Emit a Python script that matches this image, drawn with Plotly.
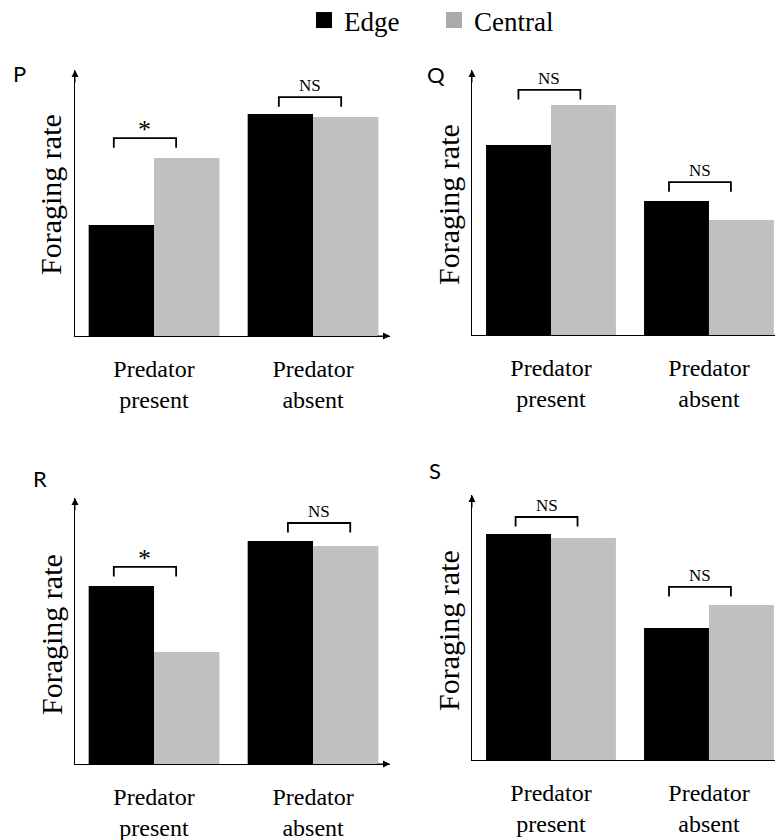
import plotly.graph_objects as go

# ---------------- data ----------------
categories = ["Predator present", "Predator absent"]
tick_labels = ["Predator<br>present", "Predator<br>absent"]
series_names = ["Edge", "Central"]
panel_names = ["P", "Q", "R", "S"]

edge_P = [4.17, 8.35]
central_P = [6.69, 8.23]
edge_Q = [7.17, 5.06]
central_Q = [8.68, 4.34]
edge_R = [6.69, 8.38]
central_R = [4.21, 8.20]
edge_S = [8.53, 4.98]
central_S = [8.38, 5.85]

sig_P = ["*", "NS"]
sig_Q = ["NS", "NS"]
sig_R = ["*", "NS"]
sig_S = ["NS", "NS"]

# bracket heights (same units as the bars)
bracket_P = [7.44, 8.98]
bracket_Q = [9.25, 5.77]
bracket_R = [7.41, 9.06]
bracket_S = [9.17, 6.53]

edge = {"P": edge_P, "Q": edge_Q, "R": edge_R, "S": edge_S}
central = {"P": central_P, "Q": central_Q, "R": central_R, "S": central_S}
sig = {"P": sig_P, "Q": sig_Q, "R": sig_R, "S": sig_S}
bracket = {"P": bracket_P, "Q": bracket_Q, "R": bracket_R, "S": bracket_S}

# ---------------- layout / style ----------------
W, H = 775, 840
EDGE_COLOR = "#000000"
CENTRAL_COLOR = "#c0c0c0"
SERIF = "Liberation Serif"
SANS = "Lato"

def fx(px):
    return px / W

def fy(py):
    return 1 - py / H

# pixel boxes of each panel: (left, right, bottom, top)
boxes = {
    "P": (75, 390, 336, 70),
    "Q": (472, 775, 335, 70),
    "R": (75, 390, 764, 498),
    "S": (472, 775, 760, 495),
}
xranges = {
    "P": [-0.497, 1.484],
    "Q": [-0.5, 1.418],
    "R": [-0.497, 1.484],
    "S": [-0.5, 1.418],
}
# bracket horizontal shift relative to category centre
bracket_shift = {
    "P": [-0.057, -0.019],
    "Q": [-0.01, -0.057],
    "R": [-0.057, 0.038],
    "S": [-0.028, -0.057],
}
letter_pos = {"P": (19, 73), "Q": (436, 74), "R": (40, 478), "S": (435, 470)}
ytitle_pos = {"P": (50, 195), "Q": (448, 205), "R": (51, 635), "S": (448, 631)}
arrow_right = {"P": True, "Q": False, "R": True, "S": False}

HALF = 0.196
LEG = 0.36

fig = go.Figure()
annotations = []
xs = [0, 1]

for i, p in enumerate(panel_names):
    n = "" if i == 0 else str(i + 1)
    xa, ya = "x" + n, "y" + n
    fig.add_trace(go.Bar(x=xs, y=edge[p], name="Edge", marker_color=EDGE_COLOR,
                         marker_line_width=0, showlegend=False, xaxis=xa, yaxis=ya,
                         offsetgroup="edge"))
    fig.add_trace(go.Bar(x=xs, y=central[p], name="Central", marker_color=CENTRAL_COLOR,
                         marker_line_width=0, showlegend=False, xaxis=xa, yaxis=ya,
                         offsetgroup="central"))
    # significance brackets
    for c in range(2):
        cx = xs[c] + bracket_shift[p][c]
        lvl = bracket[p][c]
        fig.add_trace(go.Scatter(
            x=[cx - HALF, cx - HALF, cx + HALF, cx + HALF],
            y=[lvl - LEG, lvl, lvl, lvl - LEG],
            mode="lines", line=dict(color="black", width=1.8),
            showlegend=False, hoverinfo="skip", xaxis=xa, yaxis=ya))
        star = sig[p][c] == "*"
        annotations.append(dict(
            x=cx, y=lvl, xref=xa, yref=ya, text=sig[p][c], showarrow=False,
            yanchor="bottom", yshift=(-8 if star else 0),
            font=dict(family=SERIF, size=(26 if star else 17), color="black")))

    L, R_, B, T = boxes[p]
    axis_x = dict(domain=[fx(L), fx(R_)], range=xranges[p], showline=True,
                  linecolor="black", linewidth=1, showgrid=False, zeroline=False,
                  tickvals=xs, ticktext=tick_labels, ticks="", ticklabelstandoff=11,
                  tickfont=dict(family=SERIF, size=24, color="black"),
                  anchor=ya, fixedrange=True, automargin=False)
    axis_y = dict(domain=[fy(B), fy(T)], range=[0, 10], showline=True,
                  linecolor="black", linewidth=1, showgrid=False, zeroline=False,
                  showticklabels=False, ticks="", anchor=xa, fixedrange=True,
                  automargin=False)
    fig.update_layout(**{"xaxis" + n: axis_x, "yaxis" + n: axis_y})

    # arrow heads
    annotations.append(dict(x=0, y=1, xref=xa + " domain", yref=ya + " domain",
                            ax=0, ay=14, showarrow=True, arrowhead=2, arrowsize=1.4,
                            arrowwidth=1, arrowcolor="black", text=""))
    if arrow_right[p]:
        annotations.append(dict(x=1, y=0, xref=xa + " domain", yref=ya + " domain",
                                ax=-14, ay=0, showarrow=True, arrowhead=2, arrowsize=1.4,
                                arrowwidth=1, arrowcolor="black", text=""))
    # panel letter
    lx, ly = letter_pos[p]
    annotations.append(dict(x=fx(lx), y=fy(ly), xref="paper", yref="paper", text=p,
                            xanchor="center", yanchor="middle",
                            showarrow=False, font=dict(family=SANS, size=22, color="black")))
    # y title
    tx, ty = ytitle_pos[p]
    annotations.append(dict(x=fx(tx), y=fy(ty), xref="paper", yref="paper",
                            text="Foraging rate", textangle=-90, showarrow=False,
                            xanchor="center", yanchor="middle",
                            font=dict(family=SERIF, size=30, color="black")))

# legend entries
fig.add_trace(go.Scatter(x=[None], y=[None], mode="markers", name="Edge",
                         marker=dict(symbol="square", size=16, color=EDGE_COLOR)))
fig.add_trace(go.Scatter(x=[None], y=[None], mode="markers", name="Central",
                         marker=dict(symbol="square", size=16, color="#aaaaaa")))

fig.update_layout(
    width=W, height=H, margin=dict(l=0, r=0, t=0, b=0, autoexpand=False),
    paper_bgcolor="white", plot_bgcolor="white",
    barmode="group", bargap=0.178, bargroupgap=0,
    annotations=annotations,
    showlegend=True,
    legend=dict(orientation="h", x=fx(304), xanchor="left", y=1 + 4 / H, yanchor="top",
                font=dict(family=SERIF, size=27, color="black"),
                entrywidth=85, entrywidthmode="pixels",
                bgcolor="rgba(0,0,0,0)", itemsizing="trace"),
)

fig.write_html("out.html", config={"displayModeBar": False},
               post_script="document.body.style.margin='0';document.body.style.overflow='hidden';")
